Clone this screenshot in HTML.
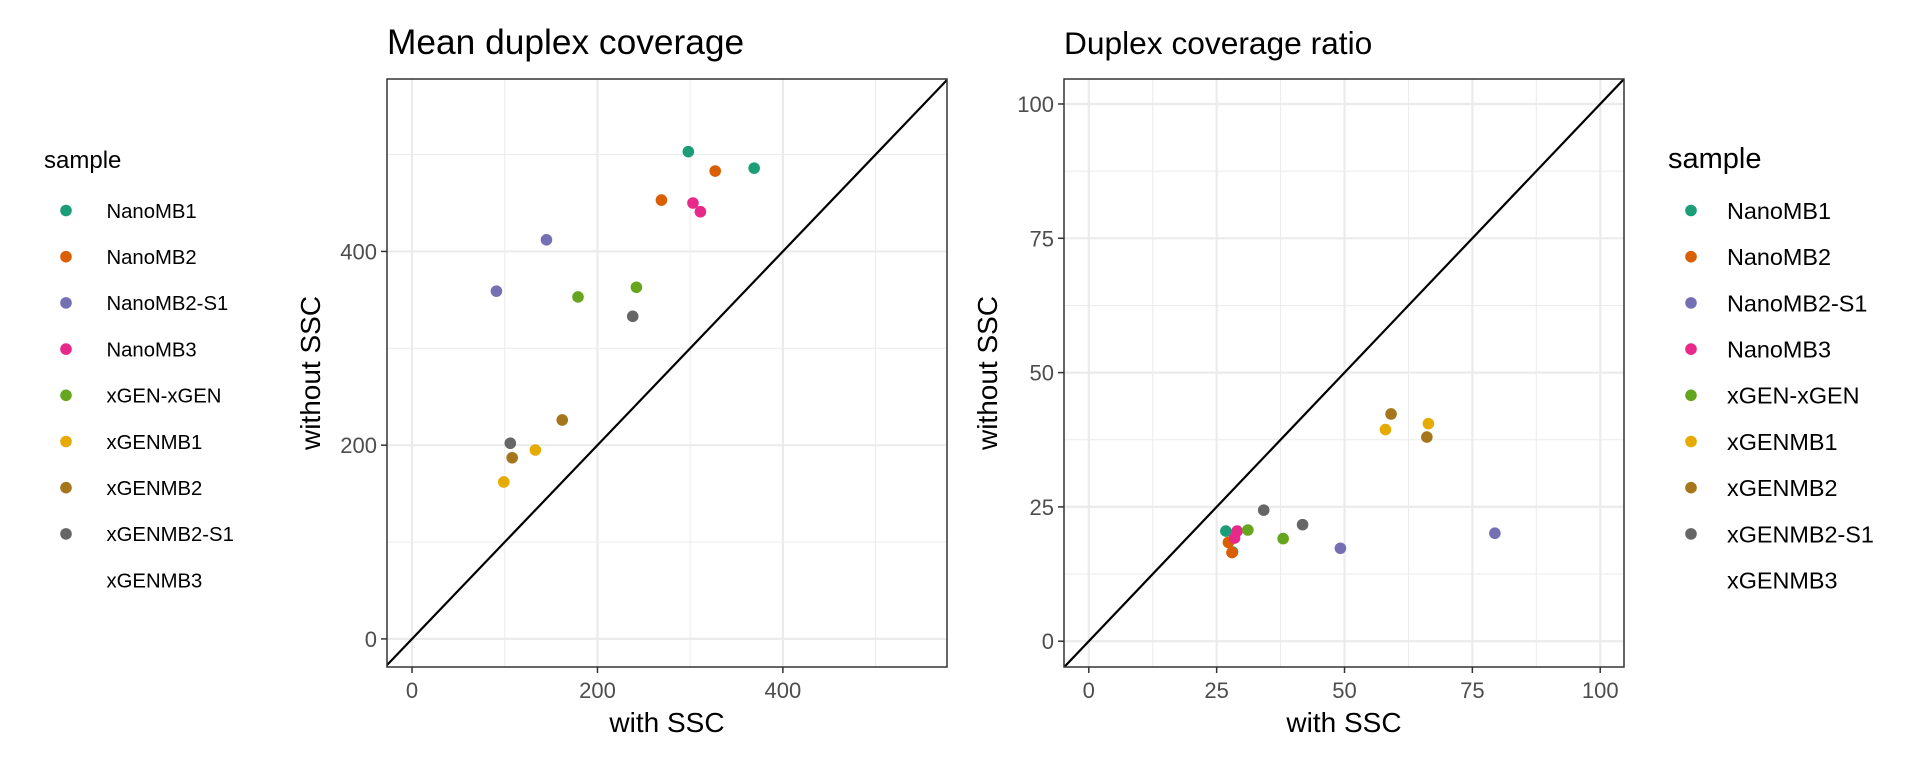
<!DOCTYPE html>
<html><head><meta charset="utf-8"><style>
html,body{margin:0;padding:0;background:#fff;}
svg{display:block;font-family:"Liberation Sans",sans-serif;}
</style></head><body>
<svg id="chart" width="1920" height="768" viewBox="0 0 1920 768" xmlns="http://www.w3.org/2000/svg"></svg>
<script>
const samples = ["NanoMB1","NanoMB2","NanoMB2-S1","NanoMB3","xGEN-xGEN","xGENMB1","xGENMB2","xGENMB2-S1","xGENMB3"];
const colors = ["#1b9e77","#d95f02","#7570b3","#e7298a","#66a61e","#e6ab02","#a6761d","#666666",null];
// Panel 1: mean duplex coverage
const p1Sample = [0,0,1,1,2,2,3,3,4,4,5,5,6,6,7,7];
const p1With =   [298,369,327,269,145,91,303,311,179,242,133,99,162,108,238,106];
const p1Without =[503,486,483,453,412,359,450,441,353,363,195,162,226,187,333,202];
const p1Ticks = [0,200,400];
const p1Minor = [100,300,500];
// Panel 2: duplex coverage ratio
const p2Sample = [0,0,1,1,2,2,3,3,4,4,5,5,6,6,7,7];
const p2With =   [26.8,28.1,27.3,28.0,49.2,79.4,28.5,29.0,31.1,38.0,58.0,66.4,59.1,66.1,34.2,41.8];
const p2Without =[20.5,16.6,18.4,16.5,17.3,20.1,19.2,20.5,20.7,19.1,39.4,40.5,42.3,38.0,24.4,21.7];
const p2Ticks = [0,25,50,75,100];
const p2Minor = [12.5,37.5,62.5,87.5];

const NS="http://www.w3.org/2000/svg";
const svg=document.getElementById('chart');
function el(tag,attrs,parent){const e=document.createElementNS(NS,tag);for(const k in attrs)e.setAttribute(k,attrs[k]);(parent||svg).appendChild(e);return e;}

function panel(cfg){
  const g=el('g',{});
  
  
  const {L,R,T,B,xd,yd}=cfg;
  const sx=v=>L+(v-xd[0])/(xd[1]-xd[0])*(R-L);
  const sy=v=>B-(v-yd[0])/(yd[1]-yd[0])*(B-T);
  const clipId='clip'+cfg.name;
  const cp=el('clipPath',{id:clipId},g);el('rect',{x:L,y:T,width:R-L,height:B-T},cp);
  for(const m of cfg.minor){
    const a=el('line',{x1:sx(m),x2:sx(m),y1:T,y2:B,stroke:'#ebebeb','stroke-width':1},g);
    
    const b=el('line',{x1:L,x2:R,y1:sy(m),y2:sy(m),stroke:'#ebebeb','stroke-width':1},g);
    
  }
  for(const t of cfg.ticks){
    const a=el('line',{x1:sx(t),x2:sx(t),y1:T,y2:B,stroke:'#ebebeb','stroke-width':2.2},g);
    
    const b=el('line',{x1:L,x2:R,y1:sy(t),y2:sy(t),stroke:'#ebebeb','stroke-width':2.2},g);
    
    const tx=el('line',{x1:sx(t),x2:sx(t),y1:B,y2:B+6,stroke:'#333','stroke-width':1.5},g);
    
    const ty=el('line',{x1:L-6,x2:L,y1:sy(t),y2:sy(t),stroke:'#333','stroke-width':1.5},g);
    
    const lx=el('text',{x:sx(t),y:B+31,'text-anchor':'middle','font-size':22,fill:'#4d4d4d'},g);lx.textContent=t;
    
    const ly=el('text',{x:L-10,y:sy(t)+8,'text-anchor':'end','font-size':22,fill:'#4d4d4d'},g);ly.textContent=t;
    
  }
  const d=el('line',{x1:sx(Math.min(xd[0],yd[0])),y1:sy(Math.min(xd[0],yd[0])),x2:sx(Math.max(xd[1],yd[1])),y2:sy(Math.max(xd[1],yd[1])),stroke:'#000','stroke-width':2.2,'clip-path':'url(#'+clipId+')'},g);
  
  for(let i=0;i<cfg.xs.length;i++){
    const c=el('circle',{cx:sx(cfg.xs[i]),cy:sy(cfg.ys[i]),r:5.8,fill:colors[cfg.s[i]]},g);
    
    
  }
  const fr=el('rect',{x:L,y:T,width:R-L,height:B-T,fill:'none',stroke:'#333','stroke-width':1.5},g);
  
  const tt=el('text',{x:L,y:54,'font-size':cfg.tfs,fill:'#000'},g);tt.textContent=cfg.title;
  
  const xt=el('text',{x:(L+R)/2,y:732,'text-anchor':'middle','font-size':28,fill:'#000'},g);xt.textContent='with SSC';
  
  const yt=el('text',{x:0,y:0,'text-anchor':'middle','font-size':28,fill:'#000',transform:'translate('+cfg.ytx+','+((T+B)/2)+') rotate(-90)'},g);yt.textContent='without SSC';
  
}
function legend(x0,dx,lx,tfs,lfs,name){
  const g=el('g',{});
  
  
  const t=el('text',{x:x0,y:168,'font-size':tfs,fill:'#000'},g);t.textContent='sample';
  
  samples.forEach((s,i)=>{
    const y=210.5+i*46.2;
    if(colors[i]){
      const c=el('circle',{cx:dx,cy:y,r:5.8,fill:colors[i]},g);
      
    }
    const l=el('text',{x:lx,y:y+lfs*0.36,'font-size':lfs,fill:'#000'},g);l.textContent=s;
    
  });
}
legend(44,66,106.5,24,20.3,'legend-left');
panel({name:'mean-duplex-coverage',L:387,R:947,T:79,B:667,xd:[-27,577],yd:[-29,578],ticks:p1Ticks,minor:p1Minor,xs:p1With,ys:p1Without,s:p1Sample,title:'Mean duplex coverage',tfs:35.3,ytx:320});
panel({name:'duplex-coverage-ratio',L:1064,R:1624,T:79,B:667,xd:[-4.85,104.65],yd:[-4.8,104.65],ticks:p2Ticks,minor:p2Minor,xs:p2With,ys:p2Without,s:p2Sample,title:'Duplex coverage ratio',tfs:31.7,ytx:997});
legend(1668,1691,1727,29,23.4,'legend-right');
</script>
</body></html>
